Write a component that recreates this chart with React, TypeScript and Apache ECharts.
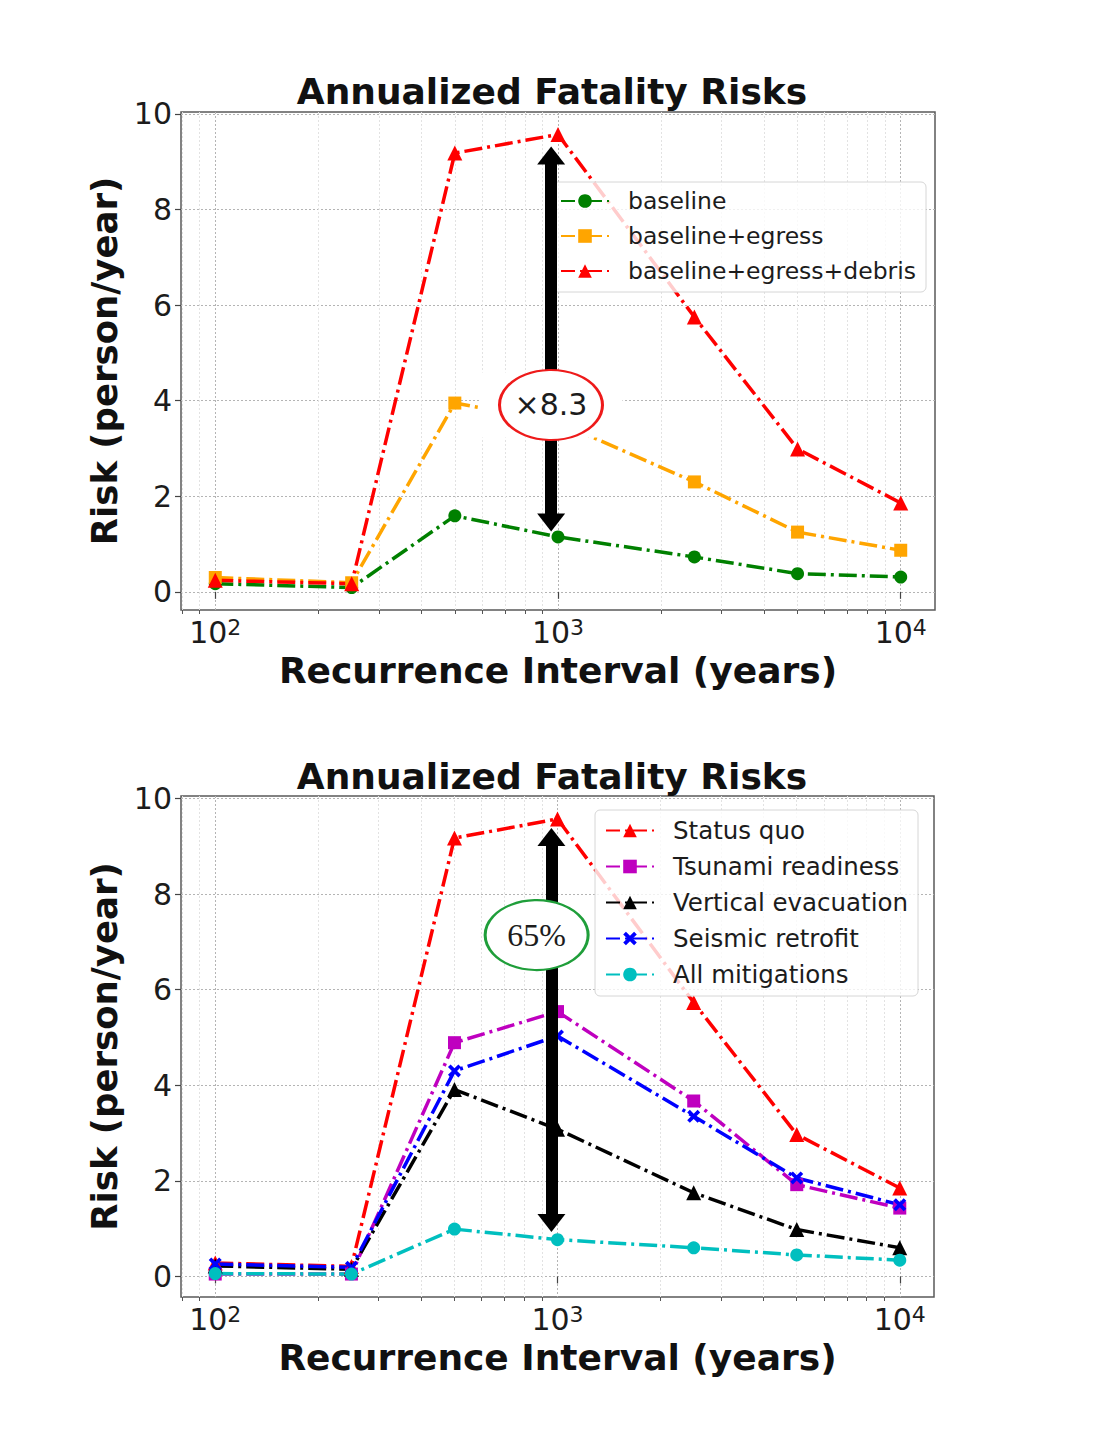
import React, { useEffect, useRef } from "react";
import * as echarts from "echarts";

// ---------- data ----------
const recurrence = [100, 250, 500, 1000, 2500, 5000, 10000];

// top chart
const baseline = [0.17, 0.09, 1.59, 1.15, 0.73, 0.38, 0.31];
const baselineEgress = [0.3, 0.19, 3.95, 3.55, 2.3, 1.25, 0.87];
const baselineEgressDebris = [0.24, 0.17, 9.18, 9.57, 5.75, 2.99, 1.86];

// bottom chart
const statusQuo = [0.28, 0.21, 9.17, 9.57, 5.73, 2.97, 1.85];
const tsunamiReadiness = [0.05, 0.05, 4.89, 5.54, 3.67, 1.92, 1.43];
const verticalEvacuation = [0.22, 0.15, 3.91, 3.08, 1.75, 0.98, 0.6];
const seismicRetrofit = [0.26, 0.19, 4.3, 5.03, 3.35, 2.06, 1.5];
const allMitigations = [0.06, 0.05, 0.99, 0.77, 0.6, 0.45, 0.34];

const topNames = ["baseline", "baseline+egress", "baseline+egress+debris"];
const bottomNames = [
  "Status quo",
  "Tsunami readiness",
  "Vertical evacuation",
  "Seismic retrofit",
  "All mitigations",
];

const yTicks = [0, 2, 4, 6, 8, 10];
const xMajorTicks = [100, 1000, 10000];
const xMinorTicks = [
  80, 90, 200, 300, 400, 500, 600, 700, 800, 900, 2000, 3000, 4000, 5000, 6000,
  7000, 8000, 9000,
];

const chartTitle = "Annualized Fatality Risks";
const xTitle = "Recurrence Interval (years)";
const yTitle = "Risk (person/year)";

// annotations (data coordinates)
const topArrow = [
  [955, 9.13],
  [955, 1.45],
];
const bottomArrow = [
  [960, 9.19],
  [960, 1.12],
];
const topBadge = [954, 3.91];
const bottomBadge = [869, 7.14];
const topBadgeText = "×8.3";
const bottomBadgeText = "65%";

const X_PATH =
  "path://M0,2 L2,0 L5,3 L8,0 L10,2 L7,5 L10,8 L8,10 L5,7 L2,10 L0,8 L3,5 Z";

const FONT = "DejaVu Sans";
const TEXT = "#1c1c1c";
const DASH = [18, 5, 3, 5];

function line(
  name: string,
  ys: number[],
  color: string,
  symbol: string,
  size: number,
  xi: number,
  yi: number
) {
  return {
    type: "line",
    name,
    xAxisIndex: xi,
    yAxisIndex: yi,
    data: recurrence.map((x, i) => [x, ys[i]]),
    symbol,
    symbolSize: size,
    showSymbol: true,
    lineStyle: { color, width: 3.5, type: DASH },
    itemStyle: { color },
    z: 2,
    silent: true,
  };
}

function xAxes(gridIndex: number) {
  const common = {
    type: "log",
    logBase: 10,
    gridIndex,
    min: 79.43,
    max: 12589,
    position: "bottom",
    axisLine: { show: false },
  };
  return [
    {
      ...common,
      name: xTitle,
      nameLocation: "middle",
      nameGap: 42,
      nameTextStyle: {
        fontSize: 36,
        fontWeight: "bold",
        color: "#111",
        fontFamily: FONT,
      },
      axisTick: {
        show: true,
        customValues: xMajorTicks,
        length: 7,
        lineStyle: { color: "#444", width: 1.2 },
      },
      axisLabel: {
        show: true,
        customValues: xMajorTicks,
        margin: 6,
        formatter: (v: number) =>
          `{b|10}{s|${Math.round(Math.log10(v))}}`,
        rich: {
          b: { fontSize: 30, lineHeight: 32, color: TEXT, fontFamily: FONT },
          s: {
            fontSize: 22,
            lineHeight: 20,
            verticalAlign: "top",
            color: TEXT,
            fontFamily: FONT,
          },
        },
      },
      splitLine: {
        show: true,
        lineStyle: { color: "#b4b4b4", width: 1, type: [2, 2] },
      },
    },
    {
      ...common,
      axisTick: {
        show: true,
        customValues: xMinorTicks,
        length: 4,
        lineStyle: { color: "#555", width: 1 },
      },
      axisLabel: { show: false },
      splitLine: {
        show: true,
        lineStyle: { color: "#e2e2e2", width: 1, type: [2, 2] },
      },
    },
  ];
}

function yAxis(gridIndex: number, min: number, max: number) {
  return {
    type: "value",
    gridIndex,
    min,
    max,
    name: yTitle,
    nameLocation: "middle",
    nameGap: 58,
    nameTextStyle: {
      fontSize: 35.5,
      fontWeight: "bold",
      color: "#111",
      fontFamily: FONT,
    },
    axisLine: { show: false },
    axisTick: {
      show: true,
      customValues: yTicks,
      length: 6,
      lineStyle: { color: "#444", width: 1.2 },
    },
    axisLabel: {
      show: true,
      customValues: yTicks,
      fontSize: 30,
      color: TEXT,
      fontFamily: FONT,
      margin: 9,
    },
    splitLine: {
      show: true,
      lineStyle: { color: "#b4b4b4", width: 1, type: [2, 2] },
    },
  };
}

function legend(
  names: string[],
  left: number,
  top: number,
  gap: number,
  pad: number[],
  fontSize: number
) {
  return {
    data: names,
    orient: "vertical",
    left,
    top,
    itemWidth: 48,
    itemHeight: 17,
    itemGap: gap,
    padding: pad,
    backgroundColor: "rgba(255,255,255,0.8)",
    borderColor: "#d6d6d6",
    borderWidth: 1,
    borderRadius: 5,
    selectedMode: false,
    lineStyle: { type: [14, 5, 3, 5] },
    textStyle: {
      fontSize,
      lineHeight: 24,
      color: TEXT,
      fontFamily: FONT,
      padding: [0, 0, 0, 14],
    },
    z: 4,
  };
}

function arrowSeries(pts: number[][], xi: number, yi: number) {
  return {
    type: "line",
    name: "_arrow" + xi,
    xAxisIndex: xi,
    yAxisIndex: yi,
    data: [],
    z: 5,
    silent: true,
    markLine: {
      silent: true,
      symbol: ["triangle", "triangle"],
      symbolSize: [28, 18],
      label: { show: false },
      lineStyle: { color: "#000", width: 12, type: "solid" },
      data: [[{ coord: pts[0] }, { coord: pts[1] }]],
    },
  };
}

function badgeSeries(
  pt: number[],
  text: string,
  color: string,
  xi: number,
  yi: number,
  withBox: boolean,
  labelStyle: any
) {
  const data: any[] = [];
  if (withBox) {
    data.push({
      coord: pt,
      symbol: "rect",
      symbolSize: [143, 65],
      itemStyle: { color: "#fff" },
      label: { show: false },
    });
  }
  data.push({
    coord: pt,
    symbol: "circle",
    symbolSize: [103, 70],
    itemStyle: { color: "#fff", borderColor: color, borderWidth: 2.5 },
    label: {
      show: true,
      position: "inside",
      formatter: text,
      ...labelStyle,
    },
  });
  return {
    type: "line",
    name: "_badge" + xi,
    xAxisIndex: xi,
    yAxisIndex: yi,
    data: [],
    z: 6,
    silent: true,
    markPoint: { silent: true, data },
  };
}

export default function App() {
  const ref = useRef<HTMLDivElement>(null);

  useEffect(() => {
    if (!ref.current) return;
    const chart = echarts.init(ref.current, undefined, { renderer: "svg" });
    const titleStyle = {
      fontSize: 36,
      fontWeight: "bold",
      color: "#111",
      fontFamily: FONT,
    };
    const option: any = {
      animation: false,
      backgroundColor: "#fff",
      textStyle: { fontFamily: FONT },
      title: [
        { text: chartTitle, left: 547, top: 68, textAlign: "center", textStyle: titleStyle },
        { text: chartTitle, left: 547, top: 753, textAlign: "center", textStyle: titleStyle },
      ],
      grid: [
        {
          left: 181,
          top: 112,
          width: 754,
          height: 498,
          show: true,
          borderColor: "#5a5a5a",
          borderWidth: 1.5,
          backgroundColor: "transparent",
        },
        {
          left: 181,
          top: 796,
          width: 753,
          height: 501,
          show: true,
          borderColor: "#5a5a5a",
          borderWidth: 1.5,
          backgroundColor: "transparent",
        },
      ],
      xAxis: [...xAxes(0), ...xAxes(1)],
      yAxis: [yAxis(0, -0.38, 10.04), yAxis(1, -0.43, 10.05)],
      legend: [
        legend(topNames, 550, 182, 11, [7, 10, 9, 10], 23.5),
        legend(bottomNames, 595, 810, 11, [8, 10, 9, 10], 24.5),
      ],
      series: [
        line(topNames[0], baseline, "#008000", "circle", 13, 0, 0),
        line(topNames[1], baselineEgress, "#ffa500", "rect", 13, 0, 0),
        line(topNames[2], baselineEgressDebris, "#ff0000", "triangle", 15, 0, 0),
        line(bottomNames[0], statusQuo, "#ff0000", "triangle", 15, 2, 1),
        line(bottomNames[1], tsunamiReadiness, "#bf00bf", "rect", 13, 2, 1),
        line(bottomNames[2], verticalEvacuation, "#000000", "triangle", 15, 2, 1),
        line(bottomNames[3], seismicRetrofit, "#0000ff", X_PATH, 13, 2, 1),
        line(bottomNames[4], allMitigations, "#00bfbf", "circle", 13, 2, 1),
        arrowSeries(topArrow, 0, 0),
        arrowSeries(bottomArrow, 2, 1),
        badgeSeries(topBadge, topBadgeText, "#ee1a1a", 0, 0, true, {
          fontSize: 30,
          color: TEXT,
          fontFamily: FONT,
        }),
        badgeSeries(bottomBadge, bottomBadgeText, "#1f9e3a", 2, 1, false, {
          fontSize: 32,
          color: TEXT,
          fontFamily: "Liberation Serif",
        }),
      ],
    };
    chart.setOption(option);
    return () => chart.dispose();
  }, []);

  return (
    <div
      ref={ref}
      style={{ position: "absolute", left: 0, top: 0, width: 1094, height: 1439 }}
    />
  );
}
